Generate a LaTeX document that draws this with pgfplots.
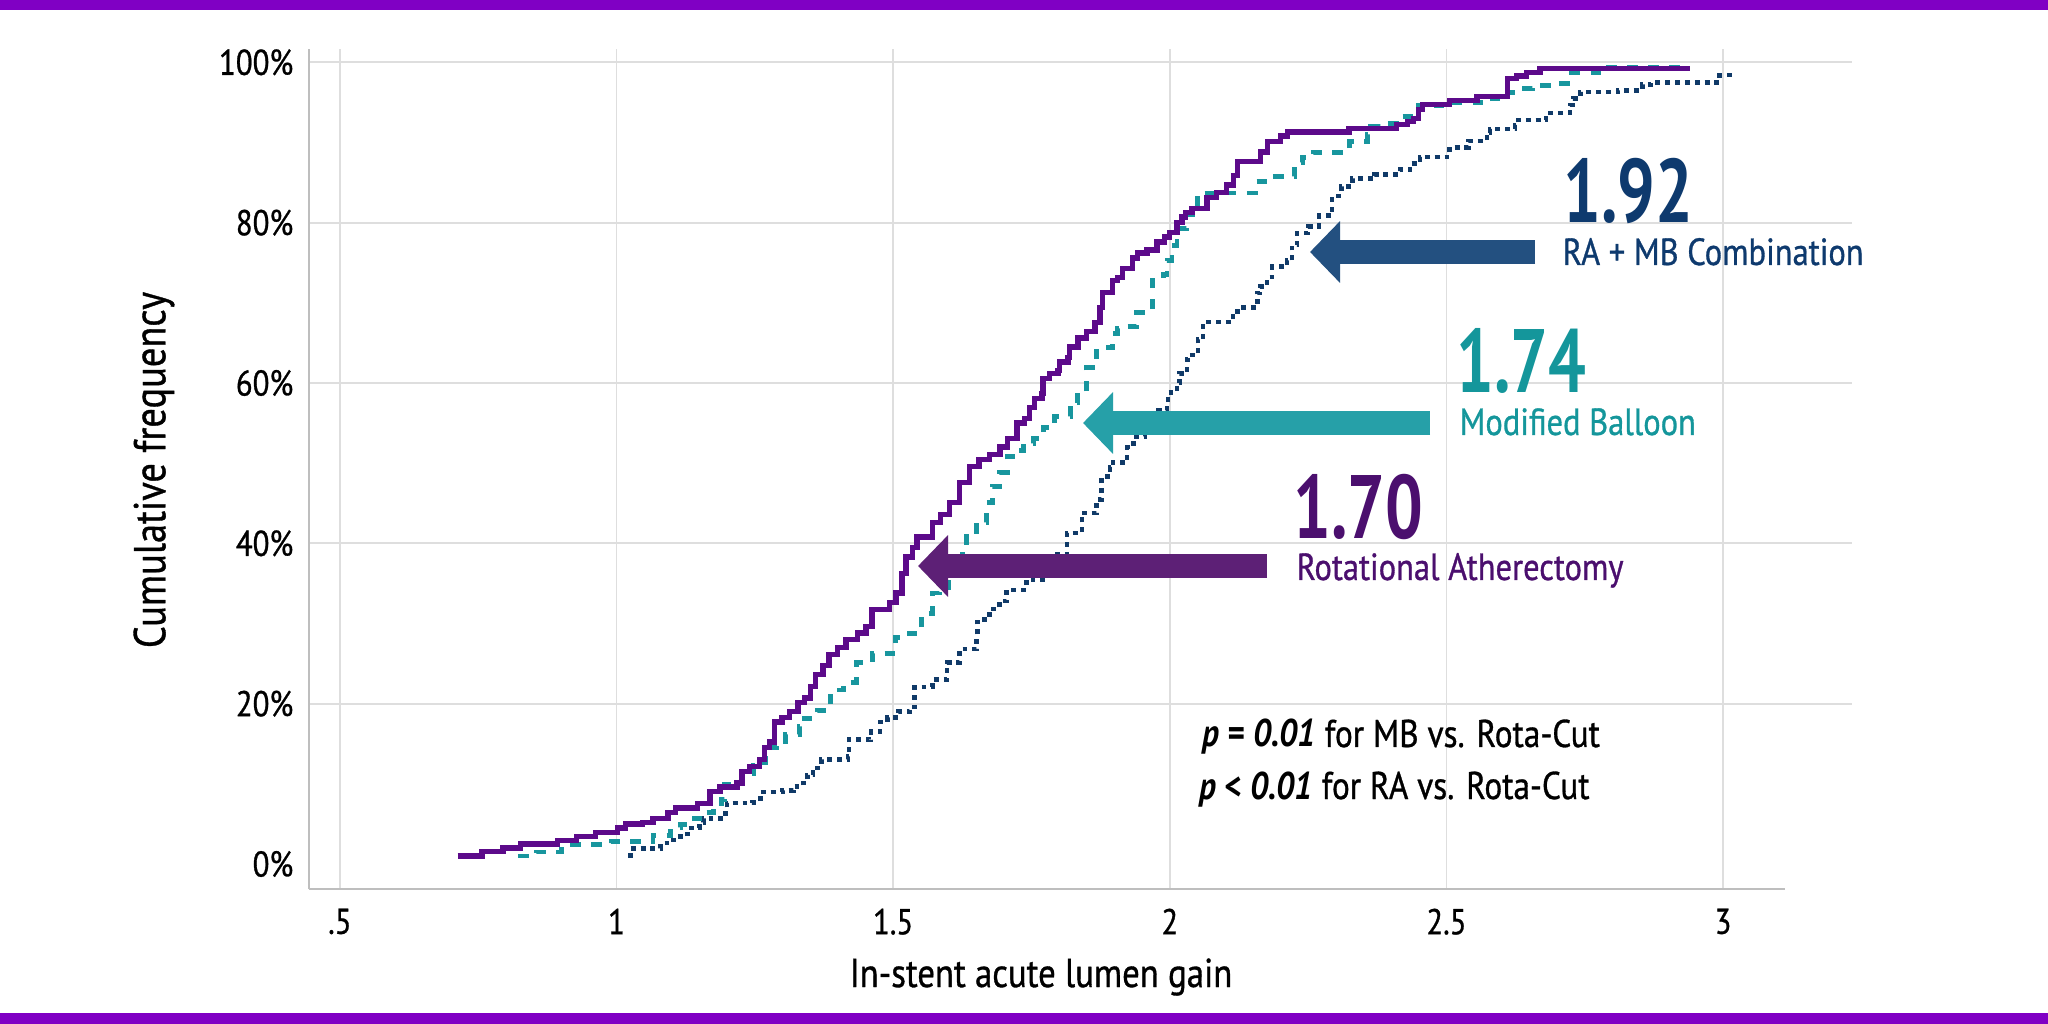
\documentclass[border=0pt]{standalone}
\usepackage{fontspec}
\setmainfont{PT Sans}[FakeStretch=0.86]
\newfontfamily\medfont{PT Sans}[FakeStretch=0.86, FakeBold=0.8]
\newfontfamily\numfont{PT Sans}[FakeStretch=0.74]
\usepackage{pgfplots}
\usepackage{pgfplotstable}
\pgfplotsset{compat=1.18}
\usetikzlibrary{arrows.meta}

\definecolor{bandpurple}{RGB}{128,0,196}
\definecolor{gridgray}{RGB}{222,222,222}
\definecolor{spinegray}{RGB}{190,190,190}
\definecolor{raline}{RGB}{92,10,138}
\definecolor{mbline}{RGB}{24,150,158}
\definecolor{combline}{RGB}{16,58,104}
\definecolor{raarrow}{RGB}{93,32,118}
\definecolor{mbarrow}{RGB}{38,160,168}
\definecolor{combarrow}{RGB}{35,80,128}
\definecolor{ratext}{RGB}{75,15,110}
\definecolor{mbtext}{RGB}{20,150,155}
\definecolor{combtext}{RGB}{14,58,110}

% cumulative frequency (%) vs. in-stent acute lumen gain
\pgfplotstableread{
x y
0.713 1.0
0.757 1.6
0.795 2.0
0.826 2.5
0.893 2.9
0.928 3.4
0.962 3.9
1.002 4.5
1.016 5.0
1.047 5.2
1.066 5.7
1.093 6.4
1.106 7.0
1.146 7.5
1.169 9.0
1.187 9.6
1.218 10.1
1.227 11.5
1.241 12.2
1.259 13.0
1.267 14.5
1.277 15.2
1.286 17.7
1.299 18.3
1.313 19.0
1.328 20.1
1.340 20.7
1.350 22.1
1.359 23.6
1.373 24.8
1.384 26.1
1.400 27.0
1.415 28.0
1.435 28.8
1.451 29.6
1.462 31.7
1.493 32.6
1.505 33.8
1.516 36.2
1.523 38.3
1.535 39.5
1.543 40.8
1.571 42.6
1.585 43.6
1.602 45.1
1.620 47.6
1.638 49.6
1.655 50.5
1.674 51.1
1.693 52.0
1.706 53.1
1.724 55.0
1.738 55.6
1.747 56.9
1.756 58.1
1.769 58.7
1.771 60.6
1.783 61.2
1.798 61.6
1.801 62.6
1.816 63.2
1.819 64.5
1.834 65.6
1.850 66.4
1.865 67.5
1.874 69.4
1.879 71.3
1.897 72.8
1.906 73.2
1.915 74.3
1.932 75.6
1.941 76.2
1.959 76.6
1.977 77.6
1.991 78.2
2.000 78.8
2.013 80.0
2.022 80.7
2.028 81.3
2.040 81.8
2.067 83.1
2.085 83.8
2.103 84.7
2.115 85.9
2.122 87.6
2.164 88.8
2.177 90.1
2.200 90.8
2.213 91.3
2.324 91.7
2.410 92.2
2.430 92.6
2.440 93.0
2.449 94.1
2.457 94.7
2.506 95.2
2.555 95.7
2.611 98.0
2.627 98.3
2.645 98.7
2.669 99.2
2.940 99.2
}\radata

\pgfplotstableread{
x y
0.822 1.0
0.855 1.5
0.900 1.8
0.920 2.4
0.990 2.8
1.066 3.5
1.097 4.5
1.115 4.9
1.140 5.7
1.160 6.4
1.176 7.5
1.190 8.0
1.195 9.9
1.210 10.3
1.227 11.3
1.248 12.3
1.262 12.7
1.270 14.5
1.290 14.8
1.305 16.1
1.330 17.1
1.334 18.2
1.360 18.8
1.363 19.2
1.386 21.7
1.410 22.6
1.433 25.1
1.462 26.3
1.505 28.3
1.529 28.8
1.552 31.3
1.571 33.8
1.583 34.5
1.600 36.0
1.612 37.5
1.625 39.2
1.632 40.8
1.650 42.6
1.669 45.1
1.680 47.1
1.693 48.8
1.706 50.8
1.724 51.6
1.735 52.5
1.753 53.1
1.771 54.4
1.792 55.8
1.820 57.5
1.834 58.9
1.850 61.9
1.868 64.4
1.897 66.2
1.905 66.8
1.919 67.0
1.940 68.8
1.968 72.8
1.988 73.5
1.995 75.3
2.004 77.2
2.013 79.3
2.031 81.0
2.050 83.7
2.155 85.1
2.180 85.7
2.226 87.5
2.240 88.1
2.260 88.8
2.325 90.1
2.357 91.0
2.362 92.0
2.380 92.4
2.410 93.2
2.450 94.6
2.510 95.0
2.583 95.5
2.600 96.2
2.620 96.7
2.655 97.1
2.700 97.4
2.718 98.7
2.783 99.4
2.940 99.4
}\mbdata

\pgfplotstableread{
x y
1.021 1.0
1.025 1.9
1.080 2.6
1.097 3.0
1.110 3.4
1.128 4.5
1.150 5.2
1.157 5.7
1.197 6.7
1.200 7.6
1.245 7.7
1.260 9.0
1.300 9.2
1.320 9.7
1.338 10.1
1.345 11.1
1.355 12.0
1.370 13.0
1.418 13.4
1.420 15.5
1.460 16.5
1.476 17.7
1.490 18.3
1.510 19.0
1.530 19.6
1.539 22.1
1.571 23.0
1.597 25.1
1.620 26.8
1.651 28.2
1.652 30.5
1.674 31.8
1.692 32.8
1.705 34.2
1.741 35.5
1.770 37.0
1.796 38.6
1.814 41.3
1.841 43.8
1.868 45.5
1.877 48.3
1.892 49.5
1.897 50.1
1.923 52.0
1.934 53.3
1.955 55.0
1.979 56.6
1.995 57.5
1.997 58.8
2.013 60.0
2.018 61.2
2.031 62.9
2.033 63.5
2.051 65.4
2.060 67.6
2.114 68.9
2.123 69.4
2.158 71.2
2.163 72.0
2.176 73.2
2.185 74.5
2.212 75.3
2.221 77.2
2.230 78.7
2.250 79.5
2.270 80.9
2.293 83.3
2.310 84.5
2.330 85.5
2.370 86.0
2.416 86.6
2.434 87.4
2.452 88.2
2.506 89.4
2.540 90.2
2.573 91.2
2.579 91.7
2.624 92.2
2.630 92.8
2.680 93.7
2.723 94.7
2.729 95.5
2.742 96.3
2.810 96.5
2.854 97.2
2.870 97.5
2.994 98.4
3.020 98.4
}\combdata

\begin{document}
\begin{tikzpicture}
\fill[white] (0,0) rectangle (20.48,10.24);
\fill[bandpurple] (0,10.14) rectangle (20.48,10.24);
\fill[bandpurple] (0,0) rectangle (20.48,0.11);

\begin{axis}[
    at={(3.09cm,1.35cm)}, anchor=south west,
    scale only axis,
    width=15.43cm, height=8.40cm,
    xmin=0.4442, xmax=3.233,
    ymin=-3.12, ymax=101.66,
    axis line style={draw=none},
    major tick length=0pt,
    xtick={0.5,1,1.5,2,2.5,3},
    xticklabels={.5,1,1.5,2,2.5,3},
    ytick={20,40,60,80,100},
    yticklabels={20\%,40\%,60\%,80\%,100\%},
    extra y ticks={0},
    extra y tick labels={0\%},
    extra y tick style={grid=none},
    grid=major,
    major grid style={draw=gridgray, line width=0.5pt},
    tick label style={font=\medfont\fontsize{10.2}{12}\selectfont, text=black},
    yticklabel style={anchor=east, inner sep=0pt, xshift=-0.15cm},
    xticklabel style={anchor=north, inner sep=0pt, yshift=-0.19cm},
    xlabel={In-stent acute lumen gain},
    ylabel={Cumulative frequency},
    xlabel style={at={(axis description cs:0.4744,-0.1048)}, anchor=center, font=\medfont\fontsize{11.5}{13}\selectfont},
    ylabel style={at={(axis description cs:-0.1005,0.4988)}, anchor=center, font=\medfont\fontsize{12.7}{14}\selectfont},
    clip=false,
]
\addplot[const plot, combline, line width=1.3pt, dash pattern=on 1.4pt off 1.4pt] table {\combdata};
\addplot[const plot, mbline, line width=1.4pt, dash pattern=on 3pt off 3pt] table {\mbdata};
\addplot[const plot, raline, line width=1.5pt] table {\radata};

\draw[spinegray, line width=0.8pt] (axis cs:0.4442,-3.12) -- (axis cs:3.112,-3.12);
\draw[spinegray, line width=0.8pt] (axis cs:0.4442,-3.12) -- (axis cs:0.4442,101.66);
\end{axis}

% annotation arrows
\draw[combarrow, line width=0.24cm, -{Triangle[length=0.30cm, width=0.60cm]}] (15.35,7.72) -- (13.10,7.72);
\draw[mbarrow, line width=0.24cm, -{Triangle[length=0.30cm, width=0.60cm]}] (14.30,6.01) -- (10.83,6.01);
\draw[raarrow, line width=0.24cm, -{Triangle[length=0.30cm, width=0.60cm]}] (12.67,4.58) -- (9.18,4.58);

% annotation texts
\node[anchor=base west, inner sep=0pt, text=combtext, font=\numfont\bfseries\fontsize{25.6}{28}\selectfont] at (15.63,8.01) {1.92};
\node[anchor=base west, inner sep=0pt, text=combtext, font=\medfont\fontsize{10.75}{13}\selectfont] at (15.62,7.59) {RA + MB Combination};
\node[anchor=base west, inner sep=0pt, text=mbtext, font=\numfont\bfseries\fontsize{25.6}{28}\selectfont] at (14.56,6.31) {1.74};
\node[anchor=base west, inner sep=0pt, text=mbtext, font=\medfont\fontsize{10.75}{13}\selectfont] at (14.59,5.89) {Modified Balloon};
\node[anchor=base west, inner sep=0pt, text=ratext, font=\numfont\bfseries\fontsize{25.6}{28}\selectfont] at (12.93,4.85) {1.70};
\node[anchor=base west, inner sep=0pt, text=ratext, font=\medfont\fontsize{10.75}{13}\selectfont] at (12.96,4.44) {Rotational Atherectomy};

\node[anchor=base west, inner sep=0pt, font=\fontsize{11}{13}\selectfont] at (12.02,2.77) {\textbf{\textit{p = 0.01}} {\medfont for MB vs. Rota-Cut}};
\node[anchor=base west, inner sep=0pt, font=\fontsize{11}{13}\selectfont] at (11.99,2.25) {\textbf{\textit{p < 0.01}} {\medfont for RA vs. Rota-Cut}};

\pgfresetboundingbox
\path (0,0) rectangle (20.48,10.24);
\end{tikzpicture}
\end{document}
